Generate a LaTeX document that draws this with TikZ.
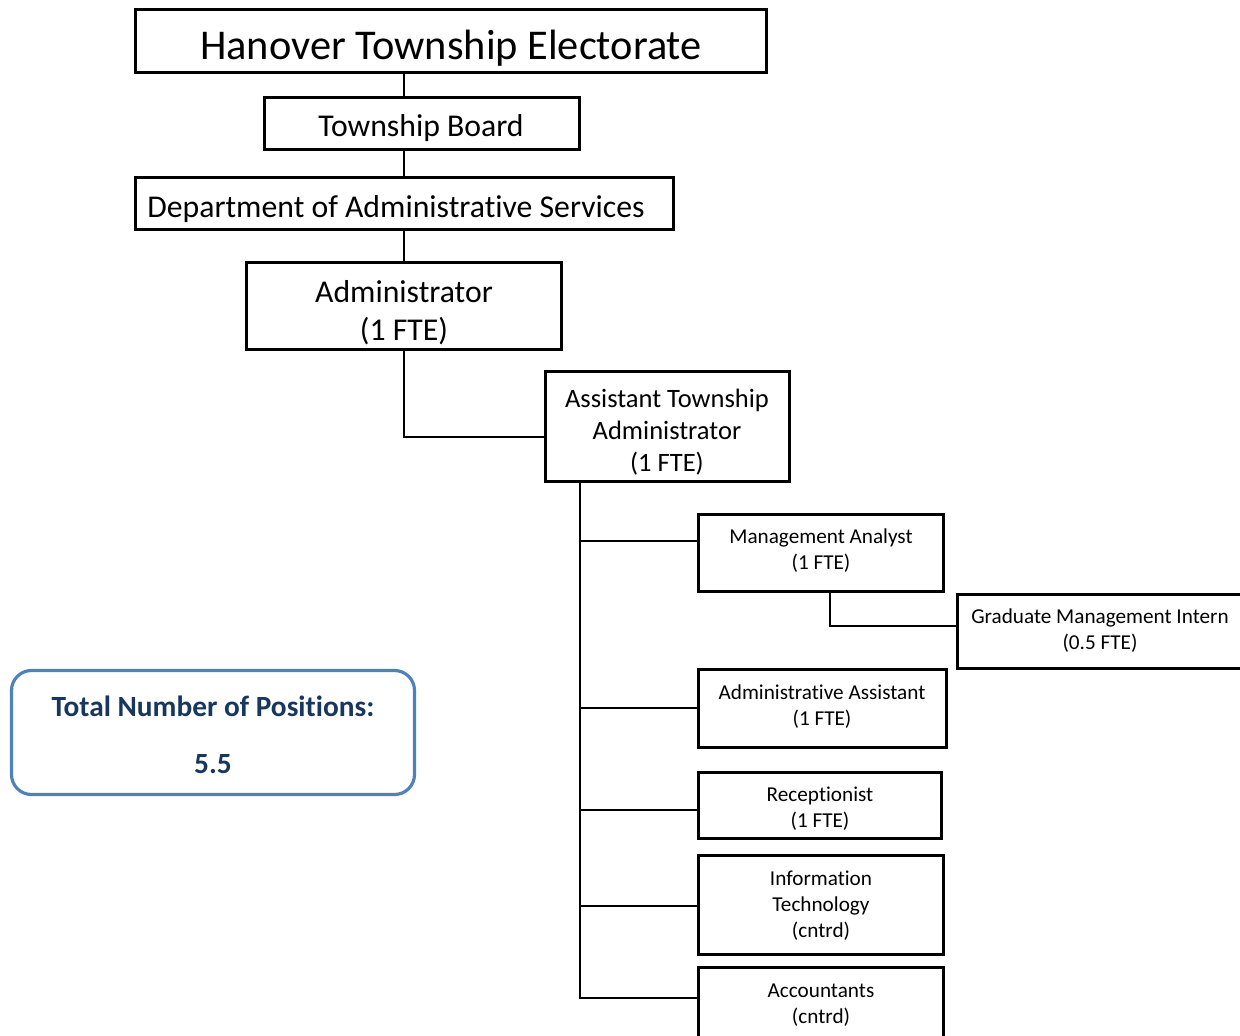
\documentclass[tikz,border=0pt]{standalone}
\usepackage{fontspec}
\setmainfont{Carlito}[Ligatures=NoCommon, RawFeature={-liga;-clig;-calt;-dlig}]
\usetikzlibrary{fit}
\definecolor{bord}{HTML}{4F81BD}
\definecolor{navy}{HTML}{17375E}
\begin{document}
\begin{tikzpicture}[x=0.75pt,y=-0.75pt,
 box/.style={draw, line width=2.5pt, inner sep=0pt},
 link/.style={line width=1.1pt},
 fA/.style={font=\fontsize{31.8}{38}\selectfont},
 fB/.style={font=\fontsize{23.8}{28.5}\selectfont, align=center},
 fC/.style={font=\fontsize{19.9}{24}\selectfont, align=center},
 fD/.style={font=\fontsize{15.9}{19.5}\selectfont, align=center},
 fE/.style={font=\fontsize{22}{43}\selectfont\bfseries, text=navy, align=center},
 txt/.style={inner sep=0pt}]
\useasboundingbox (0,0) rectangle (1240,1036);
\clip (0,0) rectangle (1240,1036);
% boxes
\node[box, fit={(135.5,9.5)(766.5,72.5)}] (ea) {};
\node[box, fit={(264.5,97.5)(579.5,149.5)}] (tb) {};
\node[box, fit={(135.5,177.5)(673.5,229.5)}] (dp) {};
\node[box, fit={(246.5,262.5)(561.5,349.5)}] (ad) {};
\node[box, fit={(545.5,371.5)(789.5,481.5)}] (ata) {};
\node[box, fit={(698.5,514.5)(943.5,591.5)}] (ma) {};
\node[box, fit={(957.5,594.5)(1260,668.5)}] (gmi) {};
\node[box, fit={(698.5,669.5)(946.5,747.5)}] (aa) {};
\node[box, fit={(698.5,772.5)(941.5,838.5)}] (rc) {};
\node[box, fit={(698.5,855.5)(943.5,954.5)}] (it) {};
\node[box, fit={(698.5,967.5)(943.5,1060)}] (ac) {};
\node[draw=bord, line width=2.4pt, rounded corners=15pt, inner sep=0pt, fit={(11.5,670.5)(414.5,794.5)}] (tot) {};
% texts
\node[txt,fA] (tea) at (451,48) {Hanover Township Electorate};
\node[txt,fB] (ttb) at (421,128) {Township Board};
\node[txt,fB] (tdp) at (396,209) {Department of Administrative Services};
\node[txt,fB] (tad) at (404,313) {Administrator\\(1 FTE)};
\node[txt,fC] (tata) at (667,432) {Assistant Township\\Administrator\\(1 FTE)};
\node[txt,fD] (tma) at (821,551) {Management Analyst\\(1 FTE)};
\node[txt,fD] (tgmi) at (1100,631) {Graduate Management Intern\\(0.5 FTE)};
\node[txt,fD] (taa) at (822,707) {Administrative Assistant\\(1 FTE)};
\node[txt,fD] (trc) at (820,809) {Receptionist\\(1 FTE)};
\node[txt,fD] (tit) at (821,906) {Information\\Technology\\(cntrd)};
\node[txt,fD] (tac) at (821,1005) {Accountants\\(cntrd)};
\node[txt,fE] (ttot) at (213,735) {Total Number of Positions:\\5.5};
% connectors
\coordinate (tr) at (580,0);
\coordinate (gx) at (830,0);
\coordinate (r0) at (0,437);
\coordinate (rMA) at (0,541);
\coordinate (rG) at (0,626);
\coordinate (rAA) at (0,708);
\coordinate (rRC) at (0,810);
\coordinate (rIT) at (0,906);
\coordinate (rAC) at (0,998);
\draw[link] (ea.south -| ad.north) -- (tb.north -| ad.north);
\draw[link] (tb.south -| ad.north) -- (dp.north -| ad.north);
\draw[link] (dp.south -| ad.north) -- (ad.north);
\draw[link] (ad.south) |- (ata.west |- r0);
\draw[link] (ata.south -| tr) -- (tr |- rAC) -- (ac.west |- rAC);
\draw[link] (tr |- rMA) -- (ma.west |- rMA);
\draw[link] (tr |- rAA) -- (aa.west |- rAA);
\draw[link] (tr |- rRC) -- (rc.west |- rRC);
\draw[link] (tr |- rIT) -- (it.west |- rIT);
\draw[link] (ma.south -| gx) |- (gmi.west |- rG);
\end{tikzpicture}
\end{document}
